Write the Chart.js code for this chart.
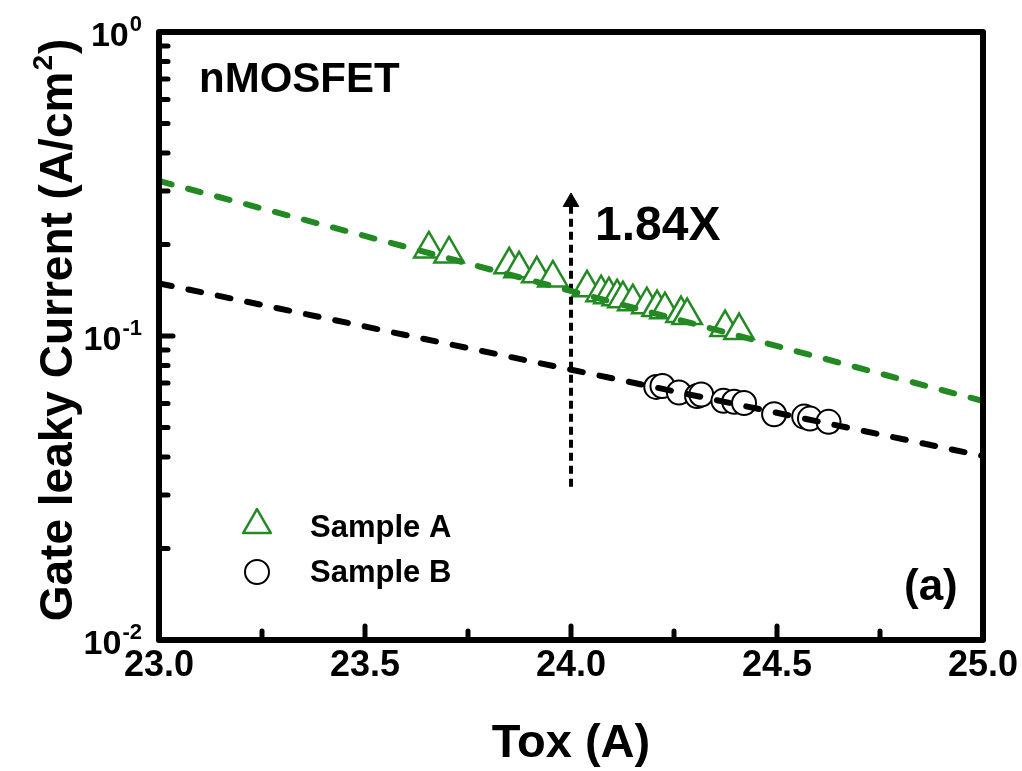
<!DOCTYPE html>
<html><head><meta charset="utf-8">
<script src="https://cdn.jsdelivr.net/npm/chart.js@4/dist/chart.umd.min.js"></script>
<style>html,body{margin:0;padding:0;background:#fff;overflow:hidden}</style>
</head><body><canvas id="c" width="1022" height="771"></canvas>
<script>
// ---- data ----
const sampleA_tox = [23.655, 23.704, 23.850, 23.874, 23.917, 23.956, 24.039, 24.073, 24.092, 24.112, 24.126, 24.150, 24.184, 24.209, 24.228, 24.267, 24.282, 24.374, 24.408];
const sampleA_j   = [0.1934, 0.1862, 0.1714, 0.1663, 0.1602, 0.1553, 0.1441, 0.1388, 0.1367, 0.1347, 0.1327, 0.1297, 0.1268, 0.1240, 0.1221, 0.1185, 0.1167, 0.1066, 0.1042];
const sampleB_tox = [24.207, 24.222, 24.262, 24.306, 24.316, 24.370, 24.396, 24.420, 24.493, 24.566, 24.580, 24.625];
const sampleB_j   = [0.0680, 0.0685, 0.0652, 0.0635, 0.0642, 0.0612, 0.0608, 0.0602, 0.0553, 0.0543, 0.0535, 0.0522];
const fitA_tox = [23.0, 25.0];
const fitA_j   = [0.3235, 0.0611];
const fitB_tox = [23.0, 25.0];
const fitB_j   = [0.1490, 0.0403];
const arrow_tox = [24.0, 24.0];
const arrow_j   = [0.0319, 0.276];
const xTickValues = [23.0, 23.5, 24.0, 24.5, 25.0];
const xMinorValues = [23.25, 23.75, 24.25, 24.75];
const yTickExponents = [0, -1, -2];
const seriesNames = ['Sample A', 'Sample B'];
const annotationText = '1.84X';
const panelTitle = 'nMOSFET';
const panelLabel = '(a)';
const xTitle = 'Tox (A)';
const yTitleMain = 'Gate leaky Current (A/cm';
const yTitleSup = '2';
const yTitleEnd = ')';

const GREEN = '#238a23';
const FONT = '"Liberation Sans", Arial, sans-serif';
const pts = (xs, ys) => xs.map((x, i) => ({x: x, y: ys[i]}));

const decor = {
  id: 'decor',
  afterDraw(chart) {
    const ctx = chart.ctx, xs = chart.scales.x, ys = chart.scales.y, a = chart.chartArea;
    ctx.save();
    ctx.strokeStyle = '#000'; ctx.lineCap = 'round';
    ctx.lineWidth = 5;
    const tick = (x1, y1, x2, y2) => { ctx.beginPath(); ctx.moveTo(x1, y1); ctx.lineTo(x2, y2); ctx.stroke(); };
    xTickValues.forEach(v => { const p = xs.getPixelForValue(v); tick(p, a.bottom, p, a.bottom - 14); });
    xMinorValues.forEach(v => { const p = xs.getPixelForValue(v); tick(p, a.bottom, p, a.bottom - 9); });
    yTickExponents.forEach(e => {
      const p = ys.getPixelForValue(Math.pow(10, e)); tick(a.left, p, a.left + 14, p);
      if (e < 0) for (let m = 2; m <= 9; m++) { const q = ys.getPixelForValue(m * Math.pow(10, e)); tick(a.left, q, a.left + 9, q); }
    });
    ctx.lineWidth = 6; ctx.lineJoin = 'round';
    ctx.strokeRect(a.left, a.top, a.right - a.left, a.bottom - a.top);
    ctx.fillStyle = '#000';
    ctx.font = 'bold 36px ' + FONT; ctx.textAlign = 'center'; ctx.textBaseline = 'alphabetic';
    xTickValues.forEach(v => ctx.fillText(v.toFixed(1), xs.getPixelForValue(v), 676));
    yTickExponents.forEach(e => {
      const p = ys.getPixelForValue(Math.pow(10, e));
      const sup = String(e);
      ctx.font = 'bold 22px ' + FONT; ctx.textAlign = 'right';
      const sw = ctx.measureText(sup).width;
      ctx.fillText(sup, 142, p - 1);
      ctx.font = 'bold 34px ' + FONT;
      ctx.fillText('10', 142 - sw - 1, p + 14);
    });
    ctx.font = 'bold 47px ' + FONT; ctx.textAlign = 'center';
    ctx.fillText(xTitle, (a.left + a.right) / 2, 757);
    ctx.save();
    ctx.translate(72, 330); ctx.rotate(-Math.PI / 2);
    ctx.font = 'bold 46px ' + FONT;
    const w1 = ctx.measureText(yTitleMain).width;
    ctx.font = 'bold 28px ' + FONT;
    const w2 = ctx.measureText(yTitleSup).width;
    ctx.font = 'bold 46px ' + FONT;
    const w3 = ctx.measureText(yTitleEnd).width;
    let sx = -(w1 + w2 + w3 + 2) / 2;
    ctx.textAlign = 'left';
    ctx.fillText(yTitleMain, sx, 0); sx += w1 + 1;
    ctx.font = 'bold 28px ' + FONT; ctx.fillText(yTitleSup, sx, -20); sx += w2 + 1;
    ctx.font = 'bold 46px ' + FONT; ctx.fillText(yTitleEnd, sx, 0);
    ctx.restore();
    ctx.textAlign = 'left';
    ctx.font = 'bold 42px ' + FONT; ctx.fillText(panelTitle, 199, 92);
    ctx.font = 'bold 48px ' + FONT; ctx.fillText(annotationText, 595, 240);
    ctx.font = 'bold 44px ' + FONT; ctx.fillText(panelLabel, 904, 600);
    ctx.font = 'bold 31px ' + FONT;
    ctx.fillText(seriesNames[0], 310, 537);
    ctx.fillText(seriesNames[1], 310, 582);
    ctx.fillStyle = '#fff'; ctx.strokeStyle = GREEN; ctx.lineWidth = 2.5;
    Chart.helpers.drawPoint(ctx, {pointStyle: 'triangle', radius: 16, rotation: 0, borderWidth: 2.5}, 257, 525);
    ctx.strokeStyle = '#000'; ctx.lineWidth = 2;
    Chart.helpers.drawPoint(ctx, {pointStyle: 'circle', radius: 12, rotation: 0, borderWidth: 2}, 257, 572);
    ctx.restore();
  }
};

new Chart(document.getElementById('c'), {
  type: 'scatter',
  data: {
    datasets: [
      { label: 'fitA', data: pts(fitA_tox, fitA_j), showLine: true, pointRadius: 0, borderColor: GREEN, borderWidth: 6, borderDash: [13, 17], borderCapStyle: 'round', order: 0 },
      { label: 'fitB', data: pts(fitB_tox, fitB_j), showLine: true, pointRadius: 0, borderColor: '#000', borderWidth: 6, borderDash: [13, 17], borderCapStyle: 'round', order: 0 },
      { label: 'arrow', data: pts(arrow_tox, arrow_j), showLine: true, pointRadius: [0, 9], pointStyle: 'triangle', pointBackgroundColor: '#000', pointBorderColor: '#000', pointBorderWidth: 1, borderColor: '#000', borderWidth: 4, borderDash: [8, 5], order: 0 },
      { label: seriesNames[0], data: pts(sampleA_tox, sampleA_j), pointStyle: 'triangle', pointRadius: 17, pointBackgroundColor: '#fff', pointBorderColor: GREEN, pointBorderWidth: 2.5, order: 2 },
      { label: seriesNames[1], data: pts(sampleB_tox, sampleB_j), pointStyle: 'circle', pointRadius: 12, pointBackgroundColor: '#fff', pointBorderColor: '#000', pointBorderWidth: 2, order: 1 }
    ]
  },
  options: {
    responsive: false, animation: false, devicePixelRatio: 1,
    layout: { padding: { left: 0, top: 32, right: 39, bottom: 0 } },
    plugins: { legend: { display: false }, tooltip: { enabled: false } },
    scales: {
      x: { type: 'linear', min: 23, max: 25, grid: { display: false, drawTicks: false }, border: { display: false }, ticks: { display: false },
           afterFit(s) { s.height = 131; } },
      y: { type: 'logarithmic', min: 0.01, max: 1, grid: { display: false, drawTicks: false }, border: { display: false }, ticks: { display: false },
           afterFit(s) { s.width = 159; } }
    }
  },
  plugins: [decor]
});
</script></body></html>
